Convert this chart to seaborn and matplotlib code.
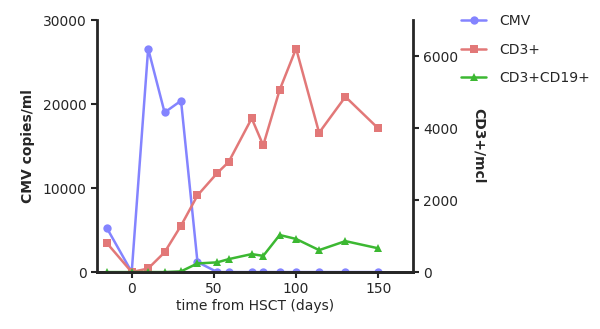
import numpy as np
import pandas as pd
import seaborn as sns
import matplotlib.pyplot as plt

# datos
days = [-15, 0, 10, 20, 30, 40, 52, 59, 73, 80, 90, 100, 114, 130, 150]
cmv = [5200, 0, 26600, 19000, 20400, 1200, 0, 0, 0, 0, 0, 0, 0, 0, 0]
cd3 = [800, 0, 100, 550, 1290, 2130, 2750, 3060, 4270, 3520, 5060, 6210, 3870, 4870, 3990]
cd3cd19 = [0, 0, 0, 0, 20, 240, 270, 360, 500, 450, 1030, 920, 610, 860, 660]

x_ticks = [0, 50, 100, 150]
left_ticks = [0, 10000, 20000, 30000]
right_ticks = [0, 2000, 4000, 6000]

c_cmv = '#8484ff'
c_cd3 = '#e27878'
c_cd19 = '#3cb832'

sns.set_style("ticks")
plt.rcParams['font.family'] = ['DejaVu Sans']

fig = plt.figure(figsize=(6, 3.29), dpi=100)
ax = fig.add_axes([0.162, 0.173, 0.526, 0.766])
ax2 = ax.twinx()

df = pd.DataFrame({'days': days, 'cmv': cmv, 'cd3': cd3, 'cd19': cd3cd19})

sns.lineplot(data=df, x='days', y='cmv', ax=ax, color=c_cmv, marker='o',
             markersize=6, markeredgewidth=0, linewidth=1.8, label='CMV', legend=False)
sns.lineplot(data=df, x='days', y='cd3', ax=ax2, color=c_cd3, marker='s',
             markersize=6, markeredgewidth=0, linewidth=1.8, label='CD3+', legend=False)
sns.lineplot(data=df, x='days', y='cd19', ax=ax2, color=c_cd19, marker='^',
             markersize=6, markeredgewidth=0, linewidth=1.8, label='CD3+CD19+', legend=False)

ax.set_xlim(-21, 171)
ax.set_ylim(0, 30000)
ax2.set_ylim(0, 7000)
ax.set_xticks(x_ticks)
ax.set_yticks(left_ticks)
ax2.set_yticks(right_ticks)

for a in (ax, ax2):
    a.spines['top'].set_visible(False)
    for s in ('left', 'right', 'bottom'):
        a.spines[s].set_linewidth(2)
    a.tick_params(width=1.5, length=4, labelsize=10)
ax2.spines['left'].set_visible(False)
ax.spines['right'].set_visible(False)

ax.set_xlabel('time from HSCT (days)', fontsize=10, labelpad=2)
ax.set_ylabel('CMV copies/ml', fontsize=10, fontweight='bold', labelpad=6)
ax2.set_ylabel('CD3+/mcl', fontsize=10, fontweight='bold', rotation=270, labelpad=20)

h1, l1 = ax.get_legend_handles_labels()
h2, l2 = ax2.get_legend_handles_labels()
fig.legend(h1 + h2, l1 + l2, loc='upper left', bbox_to_anchor=(0.748, 0.995),
           frameon=False, fontsize=10, handlelength=1.8, labelspacing=1.05,
           handletextpad=0.9)

fig.savefig('out.png', dpi=100)
